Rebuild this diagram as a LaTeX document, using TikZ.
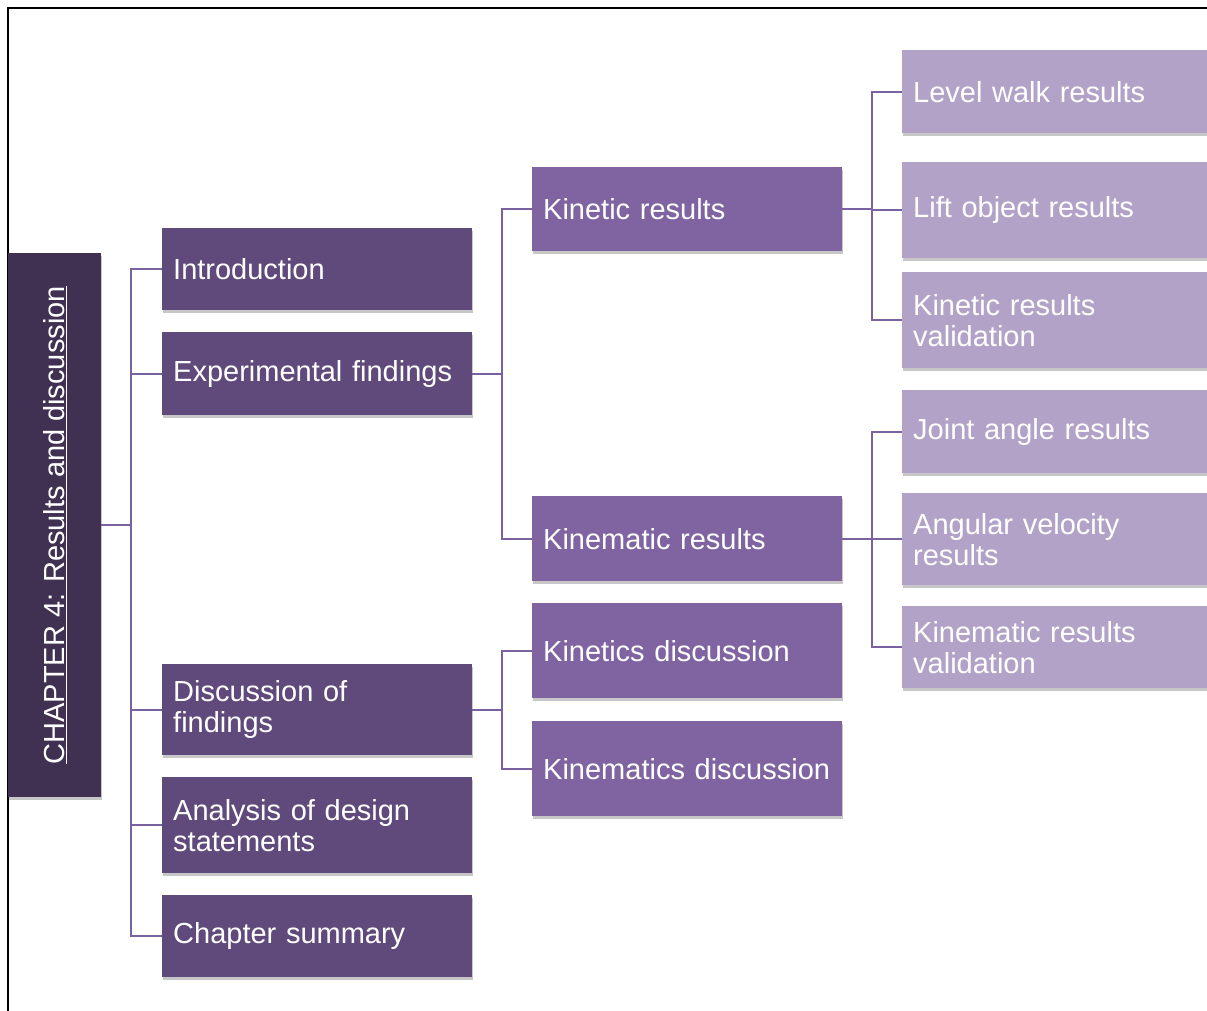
\documentclass[tikz,border=0pt]{standalone}
\usepackage{fontspec}
\setmainfont{Liberation Sans}
\usetikzlibrary{shadows}
\definecolor{cRoot}{HTML}{403152}
\definecolor{cOne}{HTML}{604A7B}
\definecolor{cTwo}{HTML}{8064A2}
\definecolor{cThree}{HTML}{B3A2C7}
\definecolor{cLine}{HTML}{7A61A0}
\tikzset{
  box/.style={rectangle, anchor=north west, inner xsep=11pt, inner ysep=0pt,
    text width=288pt, align=left, text=white,
    font=\fontsize{29}{31}\selectfont,
    drop shadow={shadow xshift=1pt, shadow yshift=-3pt, opacity=0.22, fill=black}},
  lvlone/.style={box, fill=cOne},
  lvltwo/.style={box, fill=cTwo},
  lvlthree/.style={box, fill=cThree},
  conn/.style={draw=cLine, line width=2pt},
}
\begin{document}
\begin{tikzpicture}[x=1pt, y=-1pt]
\useasboundingbox (0,0) rectangle (1207,1011);
\clip (0,0) rectangle (1207,1011);
\fill[white] (0,0) rectangle (1207,1011);
% frame
\draw[black, line width=2pt] (8,1012) -- (8,8) -- (1210,8);
% root
\node[rectangle, fill=cRoot, anchor=north west, minimum width=93pt, minimum height=544pt,
  inner sep=0pt,
  drop shadow={shadow xshift=1pt, shadow yshift=-3pt, opacity=0.22, fill=black}]
  (root) at (8,253) {};
\node[rotate=90, text=white, font=\fontsize{29}{31}\selectfont] (roottext) at (root.center)
  {\underline{CHAPTER 4: Results and discussion}};
% level 1
\node[lvlone, minimum height=82pt] (intro) at (162,228) {Introduction};
\node[lvlone, minimum height=83pt] (exp) at (162,332) {Experimental findings};
\node[lvlone, minimum height=91pt] (disc) at (162,664) {Discussion of\\findings};
\node[lvlone, minimum height=96pt] (anal) at (162,777) {Analysis of design\\statements};
\node[lvlone, minimum height=82pt] (summ) at (162,895) {Chapter summary};
% level 2
\node[lvltwo, minimum height=84pt] (kinr) at (532,167) {Kinetic results};
\node[lvltwo, minimum height=85pt] (kimr) at (532,496) {Kinematic results};
\node[lvltwo, minimum height=95pt] (kind) at (532,603) {Kinetics discussion};
\node[lvltwo, minimum height=95pt] (kimd) at (532,721) {Kinematics discussion};
% level 3
\node[lvlthree, minimum height=83pt] (walk) at (902,50) {Level walk results};
\node[lvlthree, minimum height=96pt] (lift) at (902,162) {Lift object results};
\node[lvlthree, minimum height=96pt] (kval) at (902,272) {Kinetic results\\validation};
\node[lvlthree, minimum height=83pt] (joint) at (902,390) {Joint angle results};
\node[lvlthree, minimum height=92pt] (angv) at (902,493) {Angular velocity\\results};
\node[lvlthree, minimum height=82pt] (mval) at (902,606) {Kinematic results\\validation};
% connectors
\foreach \c in {intro,exp,disc,anal,summ}
  \draw[conn] (root.east) -- ++(30,0) |- (\c.west);
\foreach \c in {kinr,kimr}
  \draw[conn] (exp.east) -- ++(30,0) |- (\c.west);
\foreach \c in {kind,kimd}
  \draw[conn] (disc.east) -- ++(30,0) |- (\c.west);
\foreach \c in {walk,lift,kval}
  \draw[conn] (kinr.east) -- ++(30,0) |- (\c.west);
\foreach \c in {joint,angv,mval}
  \draw[conn] (kimr.east) -- ++(30,0) |- (\c.west);
\end{tikzpicture}
\end{document}
